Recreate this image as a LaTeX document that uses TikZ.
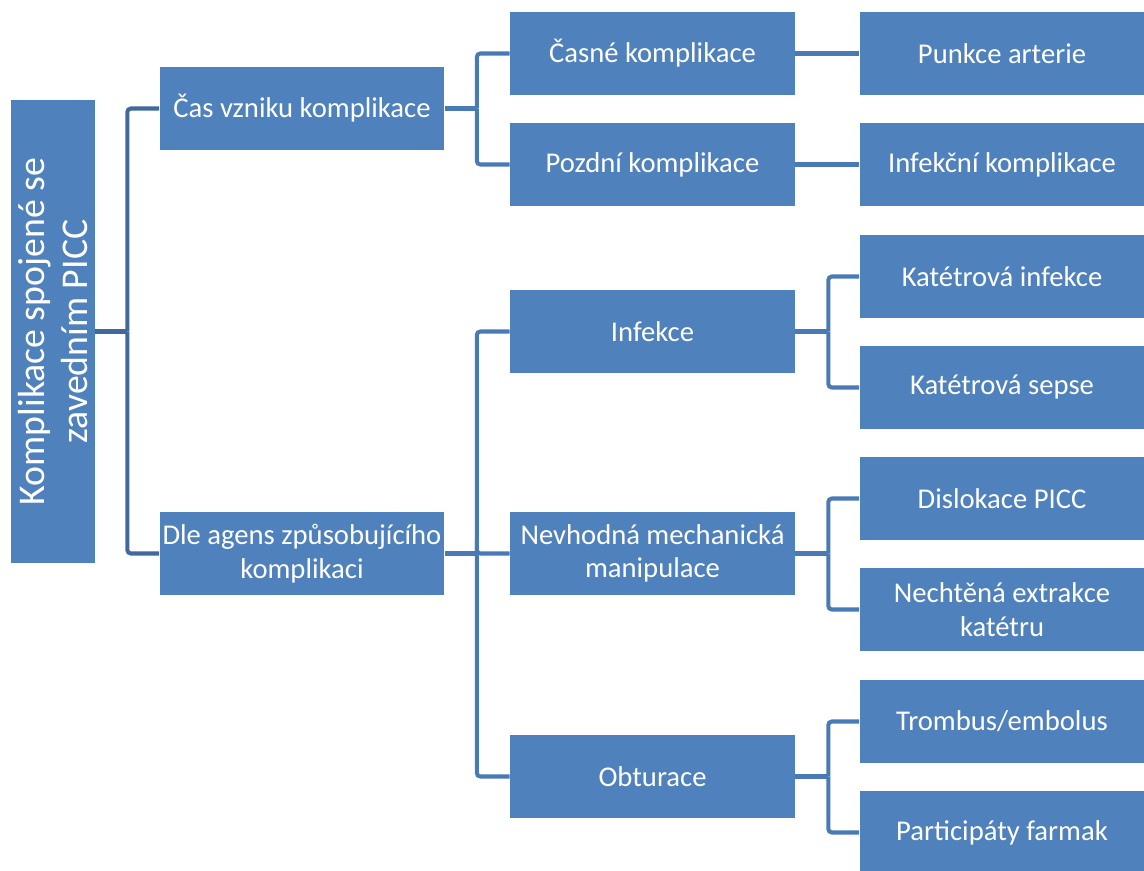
\documentclass[tikz,border=0pt]{standalone}
\usepackage{fontspec}
\setmainfont{Carlito}
\usetikzlibrary{positioning}
\definecolor{boxblue}{HTML}{4F81BD}
\definecolor{linkdark}{HTML}{41699C}
\definecolor{linkblue}{HTML}{4A7AB6}
\tikzset{
every box/.style=
    { % Sets the properties for each box
        fill=boxblue,
        text=white,
        inner xsep=0pt,
        inner ysep=2pt,
        align=center
    },
    box/.style={every box,minimum width=5.7cm,minimum height=1.66cm,
        font=\fontsize{16.3}{19}\selectfont},
    rootbox/.style={every box,rotate=90,minimum width=9.26cm,minimum height=1.68cm,
        font=\fontsize{21.5}{24}\selectfont},
    link/.style={ % Sets the properties for each connector
        draw=linkblue,
        line width=2.3pt,
        rounded corners=2pt
    }
}
\begin{document}
\begin{tikzpicture}[x=0.02cm,y=-0.02cm]
\useasboundingbox (0,0) rectangle (1144,870);
\node [rootbox] (0) at (53,331.5) {Komplikace spojené se\\zavedním PICC};
\node [box] (1) at (302,108.5) {Čas vzniku komplikace};
\node [box] (2) at (302,553.5) {Dle agens způsobujícího\\komplikaci};
%%%%%%%%%%%%%%%%%%%%%%%%%%%%%%%%%%
\node [box] (11) at (652.5,53.5) {Časné komplikace};
\node [box] (12) at (652.5,164.5) {Pozdní komplikace};
\node [box] (21) at (652.5,331.5) {Infekce};
\node [box] (22) at (652.5,553.5) {Nevhodná mechanická\\manipulace};
\node [box] (23) at (652.5,776.5) {Obturace};
%%%%%%%%%%%%%%%%%%%%%%%%%%%%%%%%%%
\node [box] (111) at (1002,53.5) {Punkce arterie};
\node [box] (121) at (1002,164.5) {Infekční komplikace};
\node [box] (211) at (1002,276.5) {Katétrová infekce};
\node [box] (212) at (1002,387.5) {Katétrová sepse};
\node [box] (221) at (1002,498.5) {Dislokace PICC};
\node [box] (222) at (1002,609.5) {Nechtěná extrakce\\katétru};
\node [box] (231) at (1002,721.5) {Trombus/embolus};
\node [box] (232) at (1002,832.5) {Participáty farmak};

% root (rotated, so its right side is the south anchor)
\draw [link,draw=linkdark] (0.south) -- ++(32,0) coordinate (r);
\draw [link,draw=linkdark] (r) |- (1.west);
\draw [link,draw=linkdark] (r) |- (2.west);

% level 1
\draw [link] (1.east) -- ++(32,0) coordinate (c1);
\draw [link] (c1) |- (11.west);
\draw [link] (c1) |- (12.west);
\draw [link] (2.east) -- ++(32,0) coordinate (c2);
\draw [link] (c2) |- (21.west);
\draw [link] (c2) |- (22.west);
\draw [link] (c2) |- (23.west);

% level 2
\draw [link] (11.east) -- (111.west);
\draw [link] (12.east) -- (121.west);
\draw [link] (21.east) -- ++(33,0) coordinate (c21);
\draw [link] (c21) |- (211.west);
\draw [link] (c21) |- (212.west);
\draw [link] (22.east) -- ++(33,0) coordinate (c22);
\draw [link] (c22) |- (221.west);
\draw [link] (c22) |- (222.west);
\draw [link] (23.east) -- ++(33,0) coordinate (c23);
\draw [link] (c23) |- (231.west);
\draw [link] (c23) |- (232.west);
\end{tikzpicture}
\end{document}
